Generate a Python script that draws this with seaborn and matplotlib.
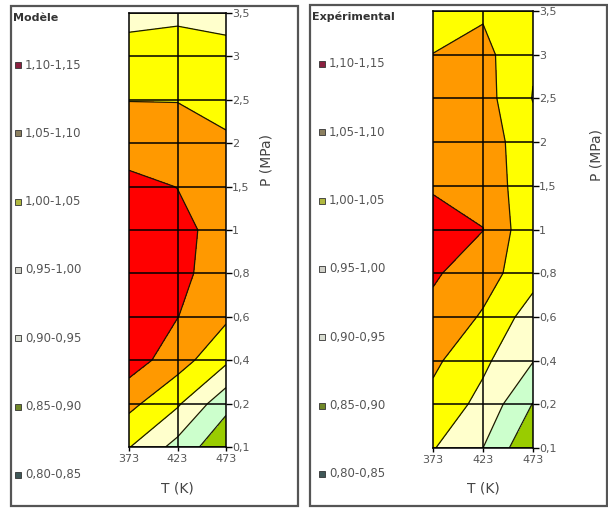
import numpy as np
import pandas as pd
import seaborn as sns
import matplotlib.pyplot as plt
from matplotlib.patches import Rectangle

# Grid of the chart: T (K) columns, P (MPa) rows (P rows are spaced evenly, like categories)
T = [373, 423, 473]
P = [0.1, 0.2, 0.4, 0.6, 0.8, 1, 1.5, 2, 2.5, 3, 3.5]
p_labels = ["0,1", "0,2", "0,4", "0,6", "0,8", "1", "1,5", "2", "2,5", "3", "3,5"]

# values, one list per temperature
model_373 = [1.002, 1.064, 1.125, 1.130, 1.135, 1.135, 1.115, 1.075, 1.049, 1.030, 0.976]
model_423 = [0.933, 1.007, 1.072, 1.101, 1.115, 1.118, 1.099, 1.080, 1.048, 1.030, 0.987]
model_473 = [0.860, 0.915, 1.010, 1.058, 1.070, 1.075, 1.075, 1.060, 1.027, 1.020, 0.979]

exp_373 = [1.003, 1.035, 1.060, 1.085, 1.107, 1.130, 1.0925, 1.080, 1.070, 1.051, 1.020]
exp_423 = [0.950, 0.985, 1.010, 1.045, 1.070, 1.101, 1.080, 1.075, 1.070, 1.065, 1.0436]
exp_473 = [0.855, 0.898, 0.952, 0.975, 1.020, 1.010, 1.019, 1.019, 0.998, 1.005, 1.010]

levels = [0.80, 0.85, 0.90, 0.95, 1.00, 1.05, 1.10, 1.15]
fill_colors = ["#2F6F6F", "#99CC00", "#CCFFCC", "#FFFFCC", "#FFFF00", "#FF9900", "#FF0000"]
legend_labels = ["1,10-1,15", "1,05-1,10", "1,00-1,05", "0,95-1,00",
                 "0,90-0,95", "0,85-0,90", "0,80-0,85"]
legend_marks = ["#8B2040", "#8C8060", "#B0B840", "#D0D0C8", "#D8DCD0", "#708828", "#405858"]

sns.set_style("white")
plt.rcParams["font.family"] = ["DejaVu Sans"]

W, H = 608, 508
fig = plt.figure(figsize=(W / 100, H / 100), dpi=100)


def fx(x):
    return x / W


def fy(y):
    return 1 - y / H


def panel(box, frame, title, cols, leg_x, leg_y):
    x0, y0, x1, y1 = box
    ax = fig.add_axes([fx(x0), fy(y1), (x1 - x0) / W, (y1 - y0) / H])
    df = pd.DataFrame(dict(zip(T, cols)), index=range(len(P)))
    Z = df.values
    X, Y = np.meshgrid(T, np.arange(len(P)))
    ax.contourf(X, Y, Z, levels=levels, colors=fill_colors)
    ax.contour(X, Y, Z, levels=levels, colors="#1a1a00", linewidths=0.9)

    ax.set_xlim(T[0], T[-1])
    ax.set_ylim(0, len(P) - 1)
    for i in range(len(P)):
        ax.axhline(i, color="black", lw=1.1, zorder=3)
    ax.axvline(T[1], color="black", lw=1.1, zorder=3)
    for s in ax.spines.values():
        s.set_color("black")
        s.set_linewidth(1.1)
        s.set_zorder(4)

    ax.yaxis.tick_right()
    ax.set_yticks(range(len(P)))
    ax.set_yticklabels(p_labels)
    ax.set_xticks(T)
    ax.set_xticklabels([str(t) for t in T])
    ax.tick_params(axis="y", direction="out", length=4, width=1, color="black",
                   pad=0.5, labelsize=8, labelcolor="#555555", right=True, left=False)
    ax.tick_params(axis="x", direction="out", length=3, width=1, color="black",
                   pad=2, labelsize=8, labelcolor="#555555", bottom=True)

    # panel frame
    fx0, fy0, fx1, fy1 = frame
    fig.patches.append(Rectangle((fx(fx0), fy(fy1)), (fx1 - fx0) / W, (fy1 - fy0) / H,
                                 transform=fig.transFigure, fill=False,
                                 edgecolor="#555555", lw=1.6))
    fig.text(fx(fx0 + 2), fy(fy0 + 12), title, fontsize=8, fontweight="bold",
             color="#333333", ha="left", va="center")

    # legend
    for k, (lab, c) in enumerate(zip(legend_labels, legend_marks)):
        yy = leg_y + 68.3 * k
        fig.patches.append(Rectangle((fx(leg_x - 3), fy(yy + 3)), 6 / W, 6 / H,
                                     transform=fig.transFigure, facecolor=c,
                                     edgecolor="#333333", lw=0.6))
        fig.text(fx(leg_x + 7), fy(yy), lab, fontsize=8.5, color="#555555",
                 ha="left", va="center")

    fig.text(fx((x0 + x1) / 2), fy(488), "T (K)", fontsize=10, color="#444444",
             ha="center", va="center")
    return ax


panel((129, 13, 226, 447), (11, 6, 298, 506), "Modèle",
      [model_373, model_423, model_473], 18, 65)
panel((433, 11, 533, 448), (310, 5, 607, 506), "Expérimental",
      [exp_373, exp_423, exp_473], 322, 64)

fig.text(fx(267), fy(160), "P (MPa)", fontsize=10, color="#444444",
         rotation=90, ha="center", va="center")
fig.text(fx(597), fy(155), "P (MPa)", fontsize=10, color="#444444",
         rotation=90, ha="center", va="center")

fig.savefig("out.png", dpi=100)
